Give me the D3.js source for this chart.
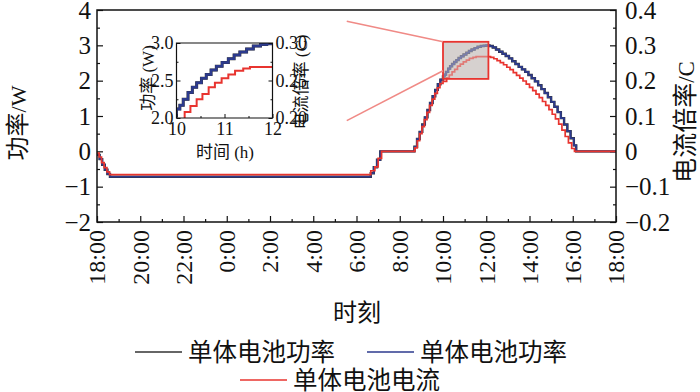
<!DOCTYPE html>
<html>
<head>
<meta charset="utf-8">
<script src="https://cdn.jsdelivr.net/npm/d3@7"></script>
<style>
  body { margin: 0; background: #fff; }
  svg text { fill: #111; }
</style>
</head>
<body>
<svg id="chart" width="700" height="392"></svg>
<script>
// time in hours counted from 00:00 of the first day (18 -> 18:00, 42 -> 18:00 next day)
const timeTicks = [18, 20, 22, 24, 26, 28, 30, 32, 34, 36, 38, 40, 42];
const powerTicks = [-2, -1, 0, 1, 2, 3, 4];
const rateTicks = [-0.2, -0.1, 0, 0.1, 0.2, 0.3, 0.4];
const seriesNames = ["单体电池功率", "单体电池功率", "单体电池电流"];

// cell power (W), step values [time, W]
const powerPts = [
  [18.00, -0.10], [18.12, -0.22], [18.24, -0.38], [18.36, -0.52], [18.48, -0.64], [18.60, -0.72],
  [30.66, -0.62], [30.80, -0.45], [30.95, -0.24], [31.10, 0],
  [32.68, 0.13], [32.80, 0.35], [32.92, 0.55], [33.04, 0.76], [33.16, 0.96], [33.28, 1.17],
  [33.40, 1.37], [33.52, 1.56], [33.64, 1.74], [33.76, 1.90], [33.88, 2.03],
  [34.00, 2.12], [34.07, 2.17], [34.14, 2.25], [34.24, 2.34], [34.33, 2.41], [34.42, 2.47],
  [34.52, 2.53], [34.62, 2.58], [34.72, 2.64], [34.83, 2.69], [34.95, 2.74], [35.08, 2.79],
  [35.20, 2.84], [35.32, 2.88], [35.46, 2.92], [35.60, 2.96], [35.75, 2.98], [35.88, 2.99],
  [36.00, 3.00], [36.15, 2.98], [36.30, 2.94], [36.45, 2.88], [36.60, 2.82], [36.75, 2.76],
  [36.90, 2.70], [37.05, 2.63], [37.20, 2.55], [37.35, 2.47], [37.50, 2.39], [37.65, 2.32],
  [37.80, 2.25], [37.95, 2.16], [38.10, 2.07], [38.25, 1.98], [38.40, 1.87], [38.55, 1.76],
  [38.70, 1.65], [38.85, 1.53], [39.00, 1.40], [39.15, 1.26], [39.30, 1.11], [39.45, 0.94],
  [39.60, 0.76], [39.75, 0.57], [39.90, 0.37], [40.05, 0.17], [40.16, 0], [42.00, 0]
];

// cell current rate (C), step values [time, C]
const currentPts = [
  [18.00, -0.005], [18.10, -0.016], [18.21, -0.032], [18.33, -0.046], [18.46, -0.058], [18.58, -0.066],
  [30.66, -0.055], [30.85, -0.044], [31.00, -0.020], [31.16, 0],
  [32.70, 0.010], [32.81, 0.030], [32.92, 0.050], [33.03, 0.070], [33.14, 0.090], [33.26, 0.110],
  [33.38, 0.130], [33.50, 0.148], [33.62, 0.164], [33.74, 0.180], [33.86, 0.192], [34.00, 0.198],
  [34.17, 0.208], [34.29, 0.216], [34.42, 0.225], [34.54, 0.232], [34.67, 0.241], [34.80, 0.247],
  [34.94, 0.253], [35.08, 0.258], [35.22, 0.263], [35.39, 0.266], [35.53, 0.268],
  [36.20, 0.266], [36.35, 0.262], [36.50, 0.257], [36.65, 0.251], [36.80, 0.245], [36.95, 0.238],
  [37.10, 0.231], [37.25, 0.223], [37.40, 0.215], [37.55, 0.207], [37.70, 0.199], [37.85, 0.190],
  [38.00, 0.181], [38.15, 0.172], [38.30, 0.162], [38.45, 0.152], [38.60, 0.141], [38.75, 0.130],
  [38.90, 0.118], [39.05, 0.105], [39.20, 0.092], [39.35, 0.077], [39.50, 0.060], [39.65, 0.042],
  [39.80, 0.024], [39.95, 0.008], [40.08, 0], [42.00, 0]
];

// zoomed window [time range], [power range] and the two guide lines to the inset
const zoomTime = [34, 36.1];
const zoomPower = [2.05, 3.1];
const guideLines = [
  [[29.55, 3.68], [34, 3.10]],
  [[29.55, 0.87], [34, 2.28]]
];
const insetTime = [10, 12];
const insetPower = [2.0, 3.0];
const insetRate = [0.20, 0.30];
const insetTimeTicks = [10, 11, 12];
const insetPowerTicks = [2.0, 2.5, 3.0];
const insetRateTicks = [0.20, 0.25, 0.30];

const colBlack = "#333333", colBlue = "#2c3a8e", colRed = "#e8342f";
const serif = '"Liberation Serif", "Times New Roman", "DejaVu Serif", serif';
const cjk = '"Noto Sans CJK SC", sans-serif';

const svg = d3.select("#chart");
const box = { left: 97, right: 616, top: 10, bottom: 222 };

const x = d3.scaleLinear().domain([18, 42]).range([box.left, box.right]);
const yL = d3.scaleLinear().domain([-2, 4]).range([box.bottom, box.top]);
const yR = d3.scaleLinear().domain([-0.2, 0.4]).range([box.bottom, box.top]);

const defs = svg.append("defs");
defs.append("clipPath").attr("id", "clipMain")
  .append("rect").attr("x", box.left).attr("y", box.top)
  .attr("width", box.right - box.left).attr("height", box.bottom - box.top);

const serifText = g => g.selectAll("text").style("font-family", serif);

// ticks (inward)
svg.append("g").attr("transform", `translate(0,${box.bottom})`)
  .call(d3.axisBottom(x).tickValues(timeTicks).tickSize(-6).tickFormat(""))
  .call(g => g.select(".domain").remove());
svg.append("g").attr("transform", `translate(0,${box.bottom})`)
  .call(d3.axisBottom(x).tickValues(d3.range(19, 42, 2)).tickSize(-3).tickFormat(""))
  .call(g => g.select(".domain").remove());

svg.append("g").attr("transform", `translate(${box.left},0)`)
  .call(d3.axisLeft(yL).tickValues(powerTicks).tickSize(-6).tickPadding(6)
    .tickFormat(d => d < 0 ? "\u2212" + Math.abs(d) : d))
  .call(g => g.select(".domain").remove())
  .call(serifText)
  .call(g => g.selectAll("text").attr("font-size", 25));
svg.append("g").attr("transform", `translate(${box.left},0)`)
  .call(d3.axisLeft(yL).tickValues(d3.range(-1.5, 4, 1)).tickSize(-3).tickFormat(""))
  .call(g => g.select(".domain").remove());

svg.append("g").attr("transform", `translate(${box.right},0)`)
  .call(d3.axisRight(yR).tickValues(rateTicks).tickSize(-6).tickPadding(9)
    .tickFormat(d => d === 0 ? "0" : (d < 0 ? "\u2212" : "") + Math.abs(d).toFixed(1)))
  .call(g => g.select(".domain").remove())
  .call(serifText)
  .call(g => g.selectAll("text").attr("font-size", 25));
svg.append("g").attr("transform", `translate(${box.right},0)`)
  .call(d3.axisRight(yR).tickValues(d3.range(-0.15, 0.4, 0.1)).tickSize(-3).tickFormat(""))
  .call(g => g.select(".domain").remove());

svg.selectAll(".tick line").attr("stroke", "#111").attr("stroke-width", 1.2);

// rotated time labels
svg.append("g").selectAll("text").data(timeTicks).join("text")
  .attr("transform", d => `translate(${x(d)},230) rotate(-90)`)
  .attr("text-anchor", "end").attr("dy", "0.35em")
  .attr("font-size", 24)
  .style("font-family", serif)
  .text(d => (d % 24) + ":00");

// zoom window (background part)
svg.append("rect")
  .attr("x", x(zoomTime[0])).attr("y", yL(zoomPower[1]))
  .attr("width", x(zoomTime[1]) - x(zoomTime[0]))
  .attr("height", yL(zoomPower[0]) - yL(zoomPower[1]))
  .attr("fill", "#d6d1cf");

const plot = svg.append("g").attr("clip-path", "url(#clipMain)");

const linePower = d3.line().curve(d3.curveStepAfter).x(d => x(d[0])).y(d => yL(d[1]));
const lineRate = d3.line().curve(d3.curveStepAfter).x(d => x(d[0])).y(d => yR(d[1]));

plot.append("path").datum(powerPts).attr("d", linePower)
  .attr("fill", "none").attr("stroke", colBlack).attr("stroke-width", 2.4);
plot.append("path").datum(powerPts).attr("d", linePower)
  .attr("fill", "none").attr("stroke", colBlue).attr("stroke-width", 1.7);
plot.append("path").datum(currentPts).attr("d", lineRate)
  .attr("fill", "none").attr("stroke", colRed).attr("stroke-width", 1.7);

svg.append("rect")
  .attr("x", x(zoomTime[0])).attr("y", yL(zoomPower[1]))
  .attr("width", x(zoomTime[1]) - x(zoomTime[0]))
  .attr("height", yL(zoomPower[0]) - yL(zoomPower[1]))
  .attr("fill", "#d6d1cf").attr("fill-opacity", 0.45)
  .attr("stroke", colRed).attr("stroke-width", 1.8);

svg.append("g").selectAll("line").data(guideLines).join("line")
  .attr("x1", d => x(d[0][0])).attr("y1", d => yL(d[0][1]))
  .attr("x2", d => x(d[1][0])).attr("y2", d => yL(d[1][1]))
  .attr("stroke", "#f08a86").attr("stroke-width", 1.6);

// frame
svg.append("path")
  .attr("d", `M${box.left},${box.top}H${box.right}V${box.bottom}H${box.left}Z`)
  .attr("fill", "none").attr("stroke", "#111").attr("stroke-width", 1.5);

// titles
function axisTitle(tx, ty, rot, size, cn, latin) {
  const t = svg.append("text")
    .attr("transform", `translate(${tx},${ty})` + (rot ? " rotate(-90)" : ""))
    .attr("text-anchor", "middle").attr("dy", "0.35em");
  t.append("tspan").style("font-family", cjk).attr("font-size", size).text(cn);
  if (latin) t.append("tspan").style("font-family", serif).attr("font-size", size - 2).text(latin);
  return t;
}
axisTitle(20, 123, true, 24, "功率", "/W");
axisTitle(688, 122, true, 25, "电流倍率", "/C");
axisTitle(357, 315, false, 24, "时刻", null);

// legend
const legendPos = [[135, 352], [367, 352], [240, 380]];
const legendCols = [colBlack, colBlue, colRed];
const leg = svg.append("g").selectAll("g").data(seriesNames).join("g")
  .attr("transform", (d, i) => `translate(${legendPos[i][0]},${legendPos[i][1]})`);
leg.append("line").attr("x1", 0).attr("x2", 47).attr("y1", 0).attr("y2", 0)
  .attr("stroke", (d, i) => legendCols[i]).attr("stroke-width", 1.6);
leg.append("text").attr("x", 53).attr("dy", "0.35em")
  .style("font-family", cjk).attr("font-size", 24.5).text(d => d);

// inset
const ib = { left: 176.5, right: 272.5, top: 43, bottom: 118 };
const xi = d3.scaleLinear().domain(insetTime).range([ib.left, ib.right]);
const yiL = d3.scaleLinear().domain(insetPower).range([ib.bottom, ib.top]);
const yiR = d3.scaleLinear().domain(insetRate).range([ib.bottom, ib.top]);

defs.append("clipPath").attr("id", "clipInset")
  .append("rect").attr("x", ib.left).attr("y", ib.top)
  .attr("width", ib.right - ib.left).attr("height", ib.bottom - ib.top);

const inset = svg.append("g");
inset.append("rect").attr("x", ib.left).attr("y", ib.top)
  .attr("width", ib.right - ib.left).attr("height", ib.bottom - ib.top).attr("fill", "#fff");

const ip = inset.append("g").attr("clip-path", "url(#clipInset)");
const iPower = d3.line().curve(d3.curveStepAfter).x(d => xi(d[0] - 24)).y(d => yiL(d[1]));
const iRate = d3.line().curve(d3.curveStepAfter).x(d => xi(d[0] - 24)).y(d => yiR(d[1]));
ip.append("path").datum(powerPts).attr("d", iPower)
  .attr("fill", "none").attr("stroke", colBlack).attr("stroke-width", 3.0);
ip.append("path").datum(powerPts).attr("d", iPower)
  .attr("fill", "none").attr("stroke", colBlue).attr("stroke-width", 2.3);
ip.append("path").datum(currentPts).attr("d", iRate)
  .attr("fill", "none").attr("stroke", colRed).attr("stroke-width", 2);

inset.append("g").attr("transform", `translate(0,${ib.bottom})`)
  .call(d3.axisBottom(xi).tickValues(insetTimeTicks).tickSize(-4).tickPadding(4).tickFormat(d3.format("d")))
  .call(g => g.select(".domain").remove())
  .call(serifText)
  .call(g => g.selectAll("text").attr("font-size", 18));
inset.append("g").attr("transform", `translate(0,${ib.bottom})`)
  .call(d3.axisBottom(xi).tickValues([10.5, 11.5]).tickSize(-2).tickFormat(""))
  .call(g => g.select(".domain").remove());
inset.append("g").attr("transform", `translate(${ib.left},0)`)
  .call(d3.axisLeft(yiL).tickValues(insetPowerTicks).tickSize(-4).tickPadding(3).tickFormat(d3.format(".1f")))
  .call(g => g.select(".domain").remove())
  .call(serifText)
  .call(g => g.selectAll("text").attr("font-size", 18));
inset.append("g").attr("transform", `translate(${ib.left},0)`)
  .call(d3.axisLeft(yiL).tickValues([2.25, 2.75]).tickSize(-2).tickFormat(""))
  .call(g => g.select(".domain").remove());
inset.append("g").attr("transform", `translate(${ib.right},0)`)
  .call(d3.axisRight(yiR).tickValues(insetRateTicks).tickSize(-4).tickPadding(3).tickFormat(d3.format(".2f")))
  .call(g => g.select(".domain").remove())
  .call(serifText)
  .call(g => g.selectAll("text").attr("font-size", 18));
inset.append("g").attr("transform", `translate(${ib.right},0)`)
  .call(d3.axisRight(yiR).tickValues([0.225, 0.275]).tickSize(-2).tickFormat(""))
  .call(g => g.select(".domain").remove());
inset.selectAll(".tick line").attr("stroke", "#111");

inset.append("path")
  .attr("d", `M${ib.left},${ib.top}H${ib.right}V${ib.bottom}H${ib.left}Z`)
  .attr("fill", "none").attr("stroke", "#111").attr("stroke-width", 1.2);

function insetTitle(tx, ty, rot, cn, latin) {
  const t = inset.append("text")
    .attr("transform", `translate(${tx},${ty})` + (rot ? " rotate(-90)" : ""))
    .attr("text-anchor", "middle").attr("dy", "0.35em");
  t.append("tspan").style("font-family", cjk).attr("font-size", 17).text(cn);
  t.append("tspan").style("font-family", serif).attr("font-size", 17).text(latin);
}
insetTitle(148, 78, true, "功率", " (W)");
insetTitle(301, 82, true, "电流倍率", " (C)");
insetTitle(225, 152, false, "时间", " (h)");
</script>
</body>
</html>
